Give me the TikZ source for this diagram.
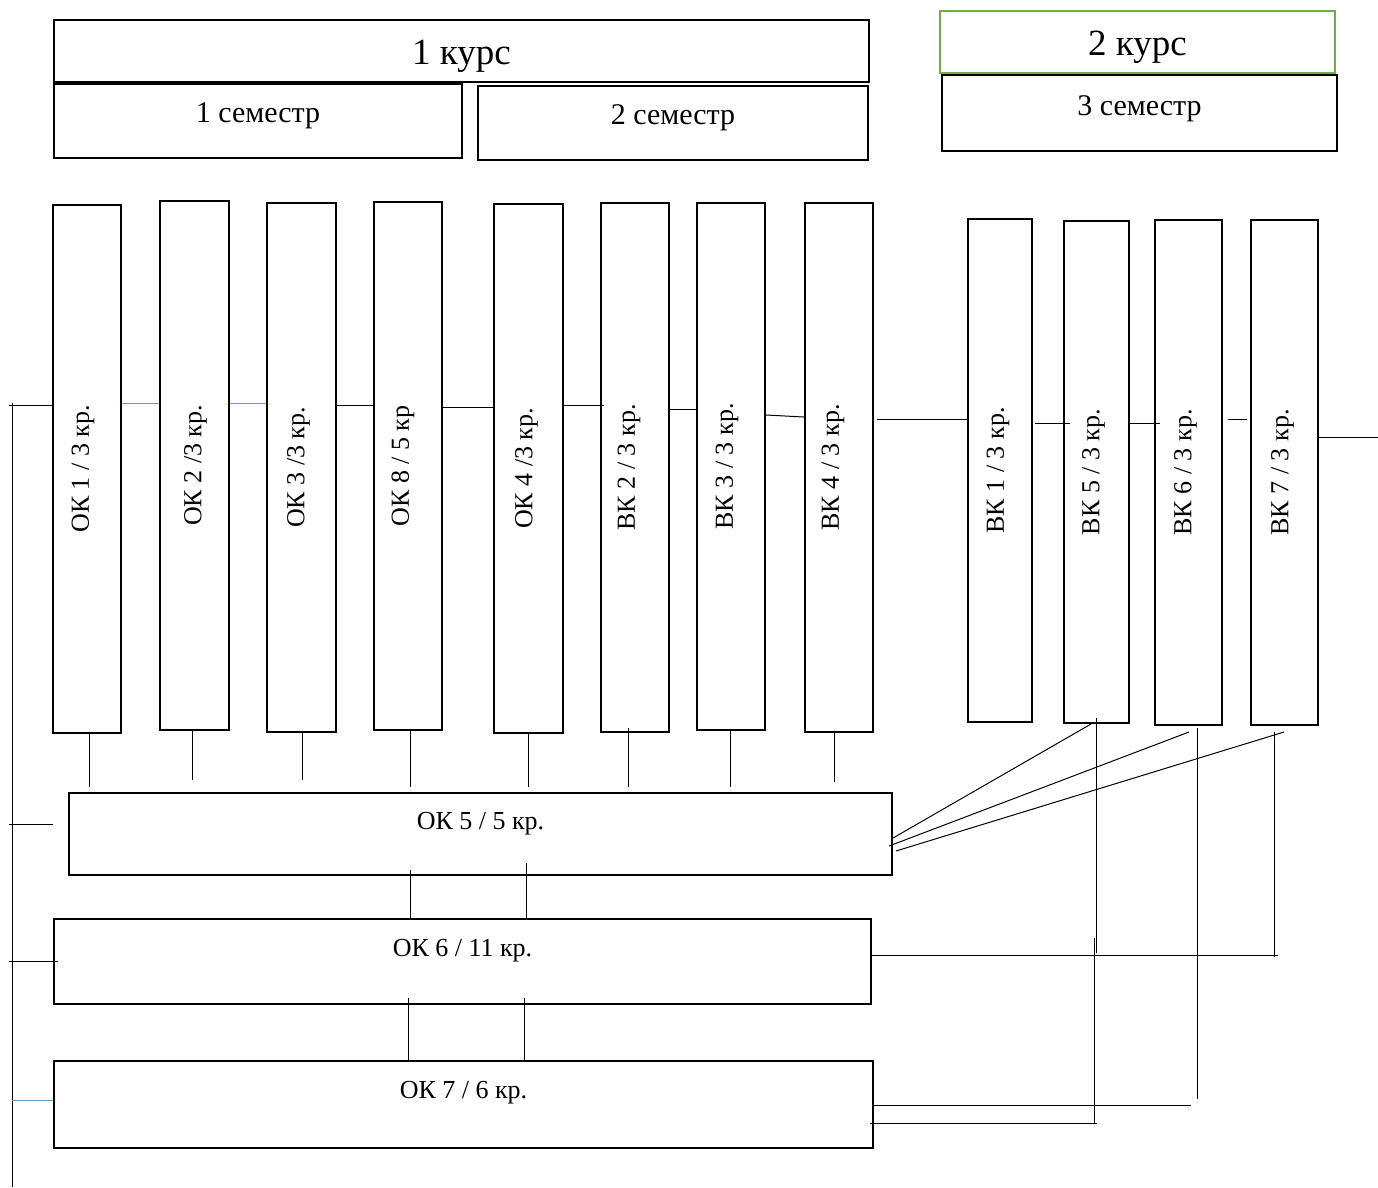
\documentclass[tikz,border=0pt]{standalone}
\usepackage{fontspec}
\setmainfont{Liberation Serif}
\definecolor{lblue}{HTML}{5B9BD5}
\definecolor{lgreen}{HTML}{70AD47}
\begin{document}
\begin{tikzpicture}[x=1pt,y=-1pt,
  col/.style={draw,line width=2.2pt,inner sep=0pt},
  conn/.style={line width=1pt},
  bconn/.style={line width=1pt,draw=lblue},
  kfont/.style={font=\fontsize{37}{40}\selectfont},
  sfont/.style={font=\fontsize{30}{34}\selectfont},
  lfont/.style={font=\fontsize{26}{30}\selectfont},
  vlab/.style={lfont,rotate=90,yshift=#1}]
\useasboundingbox[fill=white] (0,0) rectangle (1378,1187);
% headers
\node[col,minimum width=815pt,minimum height=62pt,label={[kfont,yshift=-5pt]center:1 курс}] (k1) at (461.5,51) {};
\node[col,minimum width=408pt,minimum height=74pt,label={[sfont,yshift=5pt]center:1 семестр}] (s1) at (258,121) {};
\node[col,minimum width=390pt,minimum height=74pt,label={[sfont,yshift=5pt]center:2 семестр}] (s2) at (673,123) {};
\node[col,draw=lgreen,line width=2pt,minimum width=395pt,minimum height=62pt,label={[kfont,yshift=-5pt]center:2 курс}] (k2) at (1137.5,42) {};
\node[col,minimum width=395pt,minimum height=76pt,label={[sfont,yshift=4pt]center:3 семестр}] (s3) at (1139.5,113) {};
% columns
\node[col,minimum width=68pt,minimum height=528pt,label={[vlab=4pt]center:ОК 1 / 3 кр.}] (b1) at (87,469) {};
\node[col,minimum width=69pt,minimum height=529pt,label={[vlab=-1pt]center:ОК 2 /3 кр.}] (b2) at (194.5,465.5) {};
\node[col,minimum width=69pt,minimum height=529pt,label={[vlab=3pt]center:ОК 3 /3 кр.}] (b3) at (301.5,467.5) {};
\node[col,minimum width=68pt,minimum height=528pt,label={[vlab=5pt]center:ОК 8 / 5 кр}] (b4) at (408,466) {};
\node[col,minimum width=69pt,minimum height=529pt,label={[vlab=2pt]center:ОК 4 /3 кр.}] (b5) at (528.5,468.5) {};
\node[col,minimum width=68pt,minimum height=529pt,label={[vlab=6pt]center:ВК 2 / 3 кр.}] (b6) at (635,467.5) {};
\node[col,minimum width=68pt,minimum height=527pt,label={[vlab=4pt]center:ВК 3 / 3 кр.}] (b7) at (731,466.5) {};
\node[col,minimum width=68pt,minimum height=529pt,label={[vlab=6pt]center:ВК 4 / 3 кр.}] (b8) at (839,467.5) {};
\node[col,minimum width=64pt,minimum height=503pt,label={[vlab=2pt]center:ВК 1 / 3 кр.}] (b9) at (1000,470.5) {};
\node[col,minimum width=65pt,minimum height=502pt,label={[vlab=3pt]center:ВК 5 / 3 кр.}] (b10) at (1096.5,472) {};
\node[col,minimum width=67pt,minimum height=505pt,label={[vlab=3pt]center:ВК 6 / 3 кр.}] (b11) at (1188.5,472.5) {};
\node[col,minimum width=67pt,minimum height=505pt,label={[vlab=2pt]center:ВК 7 / 3 кр.}] (b12) at (1284.5,472.5) {};
% horizontal boxes
\node[col,minimum width=823pt,minimum height=82pt,label={[lfont,yshift=10pt]center:ОК 5 / 5 кр.}] (ok5) at (480.5,834) {};
\node[col,minimum width=817pt,minimum height=85pt,label={[lfont,yshift=11pt]center:ОК 6 / 11 кр.}] (ok6) at (462.5,961.5) {};
\node[col,minimum width=819pt,minimum height=87pt,label={[lfont,yshift=12pt]center:ОК 7 / 6 кр.}] (ok7) at (463.5,1104.5) {};
% free ends
\coordinate (trT) at (12,403);
\coordinate (trB) at (12,1187);
% left trunk and ticks
\draw[conn] (trT) -- (trB);
\draw[conn] (9,405) -- (b1.west |- 0,405);
\draw[conn] (9,824) -- (53,824);
\draw[conn] (9,961) -- (58,961);
\draw[bconn] (12,1100) -- (ok7.west |- 0,1100);
% column chain
\draw[bconn] (b1.east |- 0,403) -- (b2.west |- 0,403);
\draw[bconn] (b2.east |- 0,403) -- (b3.west |- 0,403);
\draw[conn] (b3.east |- 0,405) -- (b4.west |- 0,405);
\draw[conn] (b4.east |- 0,407) -- (b5.west |- 0,407);
\draw[conn] (b5.east |- 0,405) -- (604,405);
\draw[conn] (b6.east |- 0,409) -- (b7.west |- 0,409);
\draw[conn] (b7.east |- 0,415) -- (b8.west |- 0,417);
\draw[conn] (877,419) -- (b9.west |- 0,419);
\draw[conn] (1035,423) -- (1070,423);
\draw[conn] (b10.east |- 0,423) -- (1160,423);
\draw[conn] (1228,419) -- (1247,419);
\draw[conn] (b12.east |- 0,437) -- (1378,437);
% columns to OK5
\draw[conn] (b1.south -| 89,0) -- (89,787);
\draw[conn] (b2.south -| 192,0) -- (192,780);
\draw[conn] (b3.south -| 302,0) -- (302,780);
\draw[conn] (b4.south -| 410,0) -- (410,787);
\draw[conn] (b5.south -| 528,0) -- (528,787);
\draw[conn] (628,728) -- (628,787);
\draw[conn] (b7.south -| 730,0) -- (730,787);
\draw[conn] (b8.south -| 834,0) -- (834,782);
% OK5 - OK6 - OK7
\draw[conn] (410,870) -- (ok6.north -| 410,0);
\draw[conn] (526,863) -- (ok6.north -| 526,0);
\draw[conn] (408,998) -- (ok7.north -| 408,0);
\draw[conn] (524,998) -- (ok7.north -| 524,0);
% right side
\draw[conn] (893,838) -- (1091,724);
\draw[conn] (889,846) -- (1189,732);
\draw[conn] (896,851) -- (1284,732);
\draw[conn] (1096,718) -- (1096,953);
\draw[conn] (1094,938) -- (1094,1123);
\draw[conn] (1197,728) -- (1197,1099);
\draw[conn] (1274,732) -- (1274,957);
\draw[conn] (ok6.east |- 0,955) -- (1278,955);
\draw[conn] (ok7.east |- 0,1105) -- (1191,1105);
\draw[conn] (870,1123) -- (1097,1123);
\end{tikzpicture}
\end{document}
